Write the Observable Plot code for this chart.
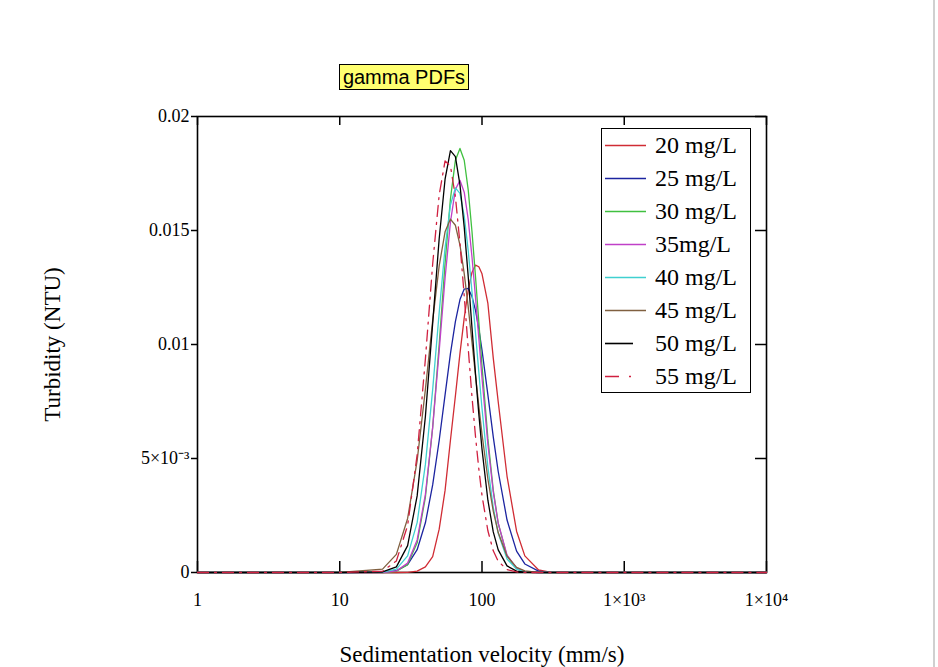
<!DOCTYPE html>
<html>
<head>
<meta charset="utf-8">
<script src="https://cdn.jsdelivr.net/npm/d3@7"></script>
<script src="https://cdn.jsdelivr.net/npm/@observablehq/plot@0.6"></script>
<style>
  html, body { margin: 0; padding: 0; background: #fff; }
  #wrap { position: relative; width: 938px; height: 667px; overflow: hidden; }
  #chart { position: absolute; left: 0; top: 0; }
  #title {
    position: absolute; left: 339px; top: 64px; width: 130px; height: 26px;
    box-sizing: border-box; border: 1px solid #000; background: #ffff70;
    font-family: "Liberation Sans", Arial, sans-serif; font-size: 20px; line-height: 24px;
    text-align: center; white-space: nowrap; color: #000;
  }
  #legend {
    position: absolute; left: 601px; top: 128px; width: 150px; height: 265px;
    box-sizing: border-box; border: 1.5px solid #000; background: #fff;
    font-family: "Liberation Serif", "Times New Roman", serif; font-size: 24px; color: #000;
  }
  .row { position: relative; height: 33px; display: flex; align-items: center; }
  .row svg { position: absolute; left: 2px; top: 0; }
  .row span { position: absolute; left: 53px; line-height: 33px; white-space: nowrap; }
  #edge { position: absolute; left: 933px; top: 0; width: 2px; height: 667px; background: #d0d0d0; }
</style>
</head>
<body>
<div id="wrap">
  <div id="chart"></div>
  <div id="title">gamma PDFs</div>
  <div id="legend"></div>
  <div id="edge"></div>
</div>
<script>
// ---- data ----
const velocity = [1, 10, 20, 25, 30, 35, 40, 45, 50, 55, 60, 65, 70, 75, 80, 85, 90, 95, 100, 110, 120, 130, 150, 175, 200, 250, 300, 1000, 10000];

const conc20 = [0, 0, 0, 0, 0.000005, 0.00006, 0.00025, 0.0007, 0.0019, 0.0036, 0.0058, 0.00774, 0.00961, 0.01117, 0.01239, 0.01316, 0.01348, 0.01341, 0.0131, 0.0118, 0.0094, 0.00749, 0.00422, 0.00181, 0.00073, 0.00011, 0.000016, 0, 0];
const conc25 = [0, 0, 0.000009, 0.000078, 0.000347, 0.0010, 0.00218, 0.00384, 0.00579, 0.00779, 0.0096, 0.0110, 0.01197, 0.01243, 0.01246, 0.01211, 0.0115, 0.01069, 0.00975, 0.00779, 0.00595, 0.00443, 0.0023, 0.000935, 0.000374, 0.000058, 0.0000095, 0, 0];
const conc30 = [0, 0, 0, 0.0000525, 0.000347, 0.0013, 0.0033, 0.00636, 0.0100, 0.01356, 0.01639, 0.01808, 0.0186, 0.01808, 0.01678, 0.01497, 0.01298, 0.01098, 0.00905, 0.00587, 0.00361, 0.00216, 0.00072, 0.000167, 0.0000388, 0, 0, 0, 0];
const conc35 = [0, 0, 0, 0.000069, 0.000412, 0.00143, 0.00343, 0.00636, 0.00972, 0.01291, 0.01537, 0.0168, 0.0172, 0.01668, 0.01549, 0.01385, 0.01207, 0.01027, 0.00853, 0.00563, 0.00353, 0.00216, 0.00076, 0.000188, 0.0000468, 0, 0, 0, 0];
const conc40 = [0, 0, 0.000013, 0.000146, 0.000728, 0.00219, 0.00474, 0.00802, 0.0114, 0.01424, 0.01612, 0.01687, 0.01663, 0.01563, 0.01412, 0.01232, 0.01051, 0.00879, 0.00719, 0.00462, 0.00285, 0.00172, 0.00059, 0.000146, 0.0000366, 0, 0, 0, 0];
const conc45 = [0, 0, 0.000148, 0.000797, 0.00237, 0.00491, 0.00803, 0.01105, 0.01345, 0.01494, 0.0155, 0.01523, 0.01436, 0.01311, 0.01165, 0.01011, 0.00865, 0.0073, 0.00607, 0.0041, 0.00269, 0.00175, 0.000716, 0.000227, 0.0000736, 0.0000082, 0, 0, 0];
const conc50 = [0, 0, 0.000023, 0.000248, 0.00118, 0.00336, 0.00684, 0.01092, 0.01464, 0.01725, 0.0185, 0.01824, 0.0170, 0.01515, 0.01298, 0.01075, 0.00872, 0.00694, 0.00541, 0.00317, 0.00178, 0.00099, 0.00029, 0.000059, 0.000012, 0, 0, 0, 0];
const conc55 = [0, 0, 0.000056, 0.000507, 0.00206, 0.00516, 0.00937, 0.01353, 0.01656, 0.01805, 0.01783, 0.01649, 0.01443, 0.01213, 0.00983, 0.00772, 0.00597, 0.00454, 0.00338, 0.00183, 0.00095, 0.00049, 0.000128, 0.000023, 0, 0, 0, 0, 0];

const seriesLabels = ["20 mg/L", "25 mg/L", "30 mg/L", "35mg/L", "40 mg/L", "45 mg/L", "50 mg/L", "55 mg/L"];
const seriesValues = [conc20, conc25, conc30, conc35, conc40, conc45, conc50, conc55];

const xTicks = [1, 10, 100, 1000, 10000];
const xTickLabels = ["1", "10", "100", "1×10³", "1×10⁴"];
const yTicks = [0, 0.005, 0.01, 0.015, 0.02];
const yTickLabels = ["0", "5×10⁻³", "0.01", "0.015", "0.02"];

// ---- styles ----
const seriesColors = ["#d02c34", "#1c24a0", "#40c040", "#c040c8", "#40d0d0", "#806040", "#000000", "#d02040"];
const seriesDash = [null, null, null, null, null, null, null, "11,6,2,6"];

const W = 938, H = 667, mL = 197, mR = 172, mT = 116, mB = 95;
const innerW = W - mL - mR, innerH = H - mT - mB;

const rows = seriesValues.flatMap((vals, si) =>
  velocity.map((v, i) => ({ v, t: vals[i], s: seriesLabels[si] })));

const xLabel = new Map(xTicks.map((d, i) => [d, xTickLabels[i]]));
const yLabel = new Map(yTicks.map((d, i) => [d, yTickLabels[i]]));

const lineMarks = seriesLabels.map((lab, si) =>
  Plot.line(rows.filter(r => r.s === lab), {
    x: "v", y: "t", stroke: seriesColors[si], strokeWidth: 1.3,
    strokeDasharray: seriesDash[si] || undefined
  }));

const chart = Plot.plot({
  width: W, height: H,
  marginLeft: mL, marginRight: mR, marginTop: mT, marginBottom: mB,
  style: { fontFamily: "Liberation Serif, Times New Roman, serif", fontSize: "18px", background: "transparent", color: "#000" },
  x: { type: "log", domain: [1, 10000] },
  y: { domain: [0, 0.02] },
  marks: [
    Plot.frame({ stroke: "#000", strokeWidth: 1.6 }),
    Plot.tickX(xTicks, { x: d => d, insetTop: innerH - 11, stroke: "#000", strokeWidth: 1.5 }),
    Plot.tickX(xTicks, { x: d => d, insetBottom: innerH - 9, stroke: "#000", strokeWidth: 1.5 }),
    Plot.tickY(yTicks, { y: d => d, insetLeft: innerW - 11, stroke: "#000", strokeWidth: 1.5 }),
    ...lineMarks,
    Plot.axisX({ ticks: xTicks, tickSize: 0, tickPadding: 21, tickFormat: d => xLabel.get(d), fontSize: 18, label: null }),
    Plot.axisY({ ticks: yTicks, tickSize: 6, tickPadding: 2, tickFormat: d => yLabel.get(d), fontSize: 18, label: null, strokeWidth: 1.5 }),
    Plot.text(["Sedimentation velocity (mm/s)"], { frameAnchor: "bottom", dy: 82, text: d => d, fontSize: 23, lineAnchor: "middle" }),
    Plot.text(["Turbidity (NTU)"], { frameAnchor: "left", dx: -145, rotate: -90, text: d => d, fontSize: 23, lineAnchor: "middle", textAnchor: "middle" })
  ]
});
document.getElementById("chart").appendChild(chart);

// ---- legend ----
const legend = document.getElementById("legend");
seriesLabels.forEach((lab, si) => {
  const row = document.createElement("div");
  row.className = "row";
  const len = si === 6 ? 28 : 41;
  const ns = "http://www.w3.org/2000/svg";
  const svg = document.createElementNS(ns, "svg");
  svg.setAttribute("width", 46); svg.setAttribute("height", 33);
  const ln = document.createElementNS(ns, "line");
  ln.setAttribute("x1", 1); ln.setAttribute("x2", 1 + len);
  ln.setAttribute("y1", 16.5); ln.setAttribute("y2", 16.5);
  ln.setAttribute("stroke", seriesColors[si]); ln.setAttribute("stroke-width", 1.6);
  if (seriesDash[si]) ln.setAttribute("stroke-dasharray", "14,10,2,30");
  svg.appendChild(ln);
  row.appendChild(svg);
  const sp = document.createElement("span");
  sp.textContent = lab;
  row.appendChild(sp);
  legend.appendChild(row);
});
</script>
</body>
</html>
